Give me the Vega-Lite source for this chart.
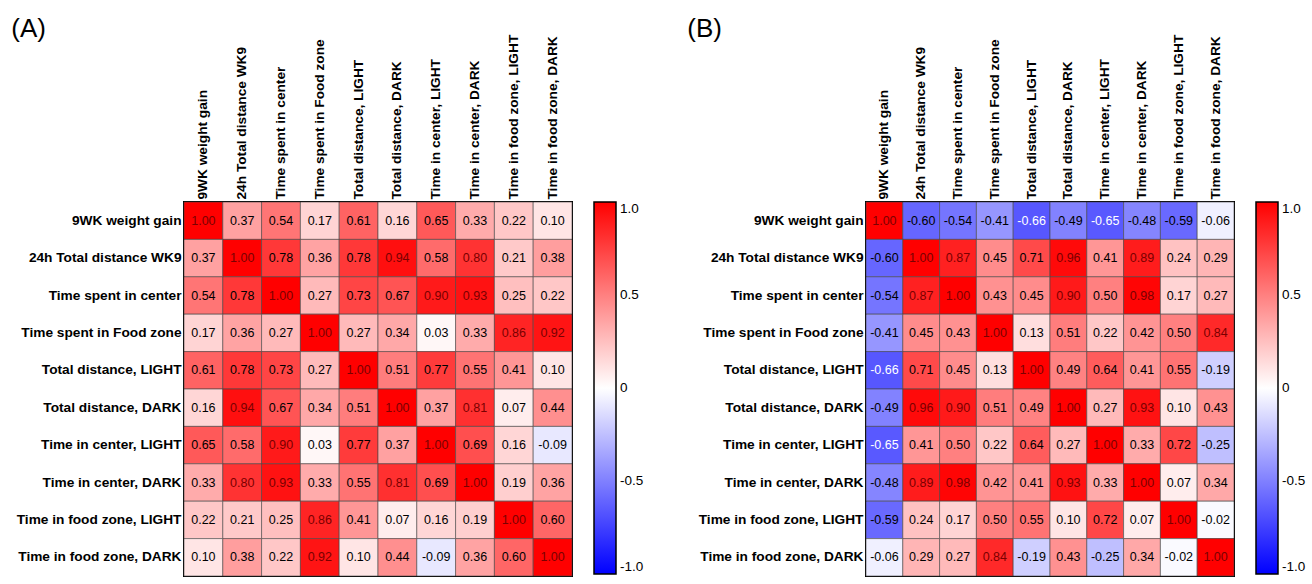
{
  "$schema": "https://vega.github.io/schema/vega-lite/v6.json",
  "padding": {"top": 15, "left": 10, "right": 0, "bottom": 0},
  "background": "white",
  "config": {
    "font": "Liberation Sans",
    "locale": {"number": {"decimal": ".", "thousands": ",", "grouping": [3], "currency": ["$", ""], "minus": "-"}},
    "view": {"stroke": "black", "strokeWidth": 2},
    "axis": {"domain": false, "ticks": false, "labelFont": "Liberation Sans", "labelFontWeight": "bold", "labelFontSize": 13.7, "labelColor": "black", "title": null, "labelPadding": 3},
    "legend": {"labelFont": "Liberation Sans", "labelFontSize": 13.5, "labelColor": "black"},
    "title": {"font": "Liberation Sans", "fontSize": 26, "fontWeight": "normal", "anchor": "start", "frame": "bounds", "color": "black", "offset": -8}
  },
  "datasets": {
    "A": [
      {"r":0,"c":0,"v":1.00},{"r":0,"c":1,"v":0.37},{"r":0,"c":2,"v":0.54},{"r":0,"c":3,"v":0.17},{"r":0,"c":4,"v":0.61},{"r":0,"c":5,"v":0.16},{"r":0,"c":6,"v":0.65},{"r":0,"c":7,"v":0.33},{"r":0,"c":8,"v":0.22},{"r":0,"c":9,"v":0.10},
      {"r":1,"c":0,"v":0.37},{"r":1,"c":1,"v":1.00},{"r":1,"c":2,"v":0.78},{"r":1,"c":3,"v":0.36},{"r":1,"c":4,"v":0.78},{"r":1,"c":5,"v":0.94},{"r":1,"c":6,"v":0.58},{"r":1,"c":7,"v":0.80},{"r":1,"c":8,"v":0.21},{"r":1,"c":9,"v":0.38},
      {"r":2,"c":0,"v":0.54},{"r":2,"c":1,"v":0.78},{"r":2,"c":2,"v":1.00},{"r":2,"c":3,"v":0.27},{"r":2,"c":4,"v":0.73},{"r":2,"c":5,"v":0.67},{"r":2,"c":6,"v":0.90},{"r":2,"c":7,"v":0.93},{"r":2,"c":8,"v":0.25},{"r":2,"c":9,"v":0.22},
      {"r":3,"c":0,"v":0.17},{"r":3,"c":1,"v":0.36},{"r":3,"c":2,"v":0.27},{"r":3,"c":3,"v":1.00},{"r":3,"c":4,"v":0.27},{"r":3,"c":5,"v":0.34},{"r":3,"c":6,"v":0.03},{"r":3,"c":7,"v":0.33},{"r":3,"c":8,"v":0.86},{"r":3,"c":9,"v":0.92},
      {"r":4,"c":0,"v":0.61},{"r":4,"c":1,"v":0.78},{"r":4,"c":2,"v":0.73},{"r":4,"c":3,"v":0.27},{"r":4,"c":4,"v":1.00},{"r":4,"c":5,"v":0.51},{"r":4,"c":6,"v":0.77},{"r":4,"c":7,"v":0.55},{"r":4,"c":8,"v":0.41},{"r":4,"c":9,"v":0.10},
      {"r":5,"c":0,"v":0.16},{"r":5,"c":1,"v":0.94},{"r":5,"c":2,"v":0.67},{"r":5,"c":3,"v":0.34},{"r":5,"c":4,"v":0.51},{"r":5,"c":5,"v":1.00},{"r":5,"c":6,"v":0.37},{"r":5,"c":7,"v":0.81},{"r":5,"c":8,"v":0.07},{"r":5,"c":9,"v":0.44},
      {"r":6,"c":0,"v":0.65},{"r":6,"c":1,"v":0.58},{"r":6,"c":2,"v":0.90},{"r":6,"c":3,"v":0.03},{"r":6,"c":4,"v":0.77},{"r":6,"c":5,"v":0.37},{"r":6,"c":6,"v":1.00},{"r":6,"c":7,"v":0.69},{"r":6,"c":8,"v":0.16},{"r":6,"c":9,"v":-0.09},
      {"r":7,"c":0,"v":0.33},{"r":7,"c":1,"v":0.80},{"r":7,"c":2,"v":0.93},{"r":7,"c":3,"v":0.33},{"r":7,"c":4,"v":0.55},{"r":7,"c":5,"v":0.81},{"r":7,"c":6,"v":0.69},{"r":7,"c":7,"v":1.00},{"r":7,"c":8,"v":0.19},{"r":7,"c":9,"v":0.36},
      {"r":8,"c":0,"v":0.22},{"r":8,"c":1,"v":0.21},{"r":8,"c":2,"v":0.25},{"r":8,"c":3,"v":0.86},{"r":8,"c":4,"v":0.41},{"r":8,"c":5,"v":0.07},{"r":8,"c":6,"v":0.16},{"r":8,"c":7,"v":0.19},{"r":8,"c":8,"v":1.00},{"r":8,"c":9,"v":0.60},
      {"r":9,"c":0,"v":0.10},{"r":9,"c":1,"v":0.38},{"r":9,"c":2,"v":0.22},{"r":9,"c":3,"v":0.92},{"r":9,"c":4,"v":0.10},{"r":9,"c":5,"v":0.44},{"r":9,"c":6,"v":-0.09},{"r":9,"c":7,"v":0.36},{"r":9,"c":8,"v":0.60},{"r":9,"c":9,"v":1.00}
    ],
    "B": [
      {"r":0,"c":0,"v":1.00},{"r":0,"c":1,"v":-0.60},{"r":0,"c":2,"v":-0.54},{"r":0,"c":3,"v":-0.41},{"r":0,"c":4,"v":-0.66},{"r":0,"c":5,"v":-0.49},{"r":0,"c":6,"v":-0.65},{"r":0,"c":7,"v":-0.48},{"r":0,"c":8,"v":-0.59},{"r":0,"c":9,"v":-0.06},
      {"r":1,"c":0,"v":-0.60},{"r":1,"c":1,"v":1.00},{"r":1,"c":2,"v":0.87},{"r":1,"c":3,"v":0.45},{"r":1,"c":4,"v":0.71},{"r":1,"c":5,"v":0.96},{"r":1,"c":6,"v":0.41},{"r":1,"c":7,"v":0.89},{"r":1,"c":8,"v":0.24},{"r":1,"c":9,"v":0.29},
      {"r":2,"c":0,"v":-0.54},{"r":2,"c":1,"v":0.87},{"r":2,"c":2,"v":1.00},{"r":2,"c":3,"v":0.43},{"r":2,"c":4,"v":0.45},{"r":2,"c":5,"v":0.90},{"r":2,"c":6,"v":0.50},{"r":2,"c":7,"v":0.98},{"r":2,"c":8,"v":0.17},{"r":2,"c":9,"v":0.27},
      {"r":3,"c":0,"v":-0.41},{"r":3,"c":1,"v":0.45},{"r":3,"c":2,"v":0.43},{"r":3,"c":3,"v":1.00},{"r":3,"c":4,"v":0.13},{"r":3,"c":5,"v":0.51},{"r":3,"c":6,"v":0.22},{"r":3,"c":7,"v":0.42},{"r":3,"c":8,"v":0.50},{"r":3,"c":9,"v":0.84},
      {"r":4,"c":0,"v":-0.66},{"r":4,"c":1,"v":0.71},{"r":4,"c":2,"v":0.45},{"r":4,"c":3,"v":0.13},{"r":4,"c":4,"v":1.00},{"r":4,"c":5,"v":0.49},{"r":4,"c":6,"v":0.64},{"r":4,"c":7,"v":0.41},{"r":4,"c":8,"v":0.55},{"r":4,"c":9,"v":-0.19},
      {"r":5,"c":0,"v":-0.49},{"r":5,"c":1,"v":0.96},{"r":5,"c":2,"v":0.90},{"r":5,"c":3,"v":0.51},{"r":5,"c":4,"v":0.49},{"r":5,"c":5,"v":1.00},{"r":5,"c":6,"v":0.27},{"r":5,"c":7,"v":0.93},{"r":5,"c":8,"v":0.10},{"r":5,"c":9,"v":0.43},
      {"r":6,"c":0,"v":-0.65},{"r":6,"c":1,"v":0.41},{"r":6,"c":2,"v":0.50},{"r":6,"c":3,"v":0.22},{"r":6,"c":4,"v":0.64},{"r":6,"c":5,"v":0.27},{"r":6,"c":6,"v":1.00},{"r":6,"c":7,"v":0.33},{"r":6,"c":8,"v":0.72},{"r":6,"c":9,"v":-0.25},
      {"r":7,"c":0,"v":-0.48},{"r":7,"c":1,"v":0.89},{"r":7,"c":2,"v":0.98},{"r":7,"c":3,"v":0.42},{"r":7,"c":4,"v":0.41},{"r":7,"c":5,"v":0.93},{"r":7,"c":6,"v":0.33},{"r":7,"c":7,"v":1.00},{"r":7,"c":8,"v":0.07},{"r":7,"c":9,"v":0.34},
      {"r":8,"c":0,"v":-0.59},{"r":8,"c":1,"v":0.24},{"r":8,"c":2,"v":0.17},{"r":8,"c":3,"v":0.50},{"r":8,"c":4,"v":0.55},{"r":8,"c":5,"v":0.10},{"r":8,"c":6,"v":0.72},{"r":8,"c":7,"v":0.07},{"r":8,"c":8,"v":1.00},{"r":8,"c":9,"v":-0.02},
      {"r":9,"c":0,"v":-0.06},{"r":9,"c":1,"v":0.29},{"r":9,"c":2,"v":0.27},{"r":9,"c":3,"v":0.84},{"r":9,"c":4,"v":-0.19},{"r":9,"c":5,"v":0.43},{"r":9,"c":6,"v":-0.25},{"r":9,"c":7,"v":0.34},{"r":9,"c":8,"v":-0.02},{"r":9,"c":9,"v":1.00}
    ]
  },
  "hconcat": [
    {
      "title": {"text": "(A)", "dx": -5},
      "data": {"name": "A"},
      "width": 388,
      "height": 374,
      "encoding": {
        "x": {"field": "c", "type": "ordinal", "axis": {"orient": "top", "labelAngle": -90, "labelAlign": "left", "labelBaseline": "middle", "labelExpr": "['9WK weight gain','24h Total distance WK9','Time spent in center','Time spent in Food zone','Total distance, LIGHT','Total distance, DARK','Time in center, LIGHT','Time in center, DARK','Time in food zone, LIGHT','Time in food zone, DARK'][datum.value]"}},
        "y": {"field": "r", "type": "ordinal", "axis": {"labelExpr": "['9WK weight gain','24h Total distance WK9','Time spent in center','Time spent in Food zone','Total distance, LIGHT','Total distance, DARK','Time in center, LIGHT','Time in center, DARK','Time in food zone, LIGHT','Time in food zone, DARK'][datum.value]"}}
      },
      "layer": [
        {"mark": {"type": "rect", "stroke": "#444", "strokeWidth": 0.6},
         "encoding": {"color": {"field": "v", "type": "quantitative", "scale": {"domain": [-1, 0, 1], "range": ["#0000ff", "#ffffff", "#ff0000"], "interpolate": "rgb"},
           "legend": {"title": null, "gradientLength": 372, "gradientThickness": 22, "gradientStrokeColor": "black", "gradientStrokeWidth": 1.5, "values": [-1, -0.5, 0, 0.5, 1], "labelBaseline": "middle", "labelOffset": 4, "offset": 22, "labelExpr": "datum.value == 1 ? '1.0' : datum.value == -1 ? '-1.0' : datum.value == 0 ? '0' : datum.value == 0.5 ? '0.5' : '-0.5'"}}}},
        {"mark": {"type": "text", "fontSize": 12.5, "font": "Liberation Sans"},
         "encoding": {"text": {"field": "v", "type": "quantitative", "format": ".2f"},
           "color": {"condition": [{"test": "datum.v >= 0.8", "value": "#7a0000"}, {"test": "datum.v <= -0.62", "value": "#ffffff"}], "value": "black"}}}
      ]
    },
    {
      "title": {"text": "(B)", "dx": -11},
      "data": {"name": "B"},
      "width": 368,
      "height": 374,
      "encoding": {
        "x": {"field": "c", "type": "ordinal", "axis": {"orient": "top", "labelAngle": -90, "labelAlign": "left", "labelBaseline": "middle", "labelExpr": "['9WK weight gain','24h Total distance WK9','Time spent in center','Time spent in Food zone','Total distance, LIGHT','Total distance, DARK','Time in center, LIGHT','Time in center, DARK','Time in food zone, LIGHT','Time in food zone, DARK'][datum.value]"}},
        "y": {"field": "r", "type": "ordinal", "axis": {"labelExpr": "['9WK weight gain','24h Total distance WK9','Time spent in center','Time spent in Food zone','Total distance, LIGHT','Total distance, DARK','Time in center, LIGHT','Time in center, DARK','Time in food zone, LIGHT','Time in food zone, DARK'][datum.value]"}}
      },
      "layer": [
        {"mark": {"type": "rect", "stroke": "#444", "strokeWidth": 0.6},
         "encoding": {"color": {"field": "v", "type": "quantitative", "scale": {"domain": [-1, 0, 1], "range": ["#0000ff", "#ffffff", "#ff0000"], "interpolate": "rgb"},
           "legend": {"title": null, "gradientLength": 372, "gradientThickness": 22, "gradientStrokeColor": "black", "gradientStrokeWidth": 1.5, "values": [-1, -0.5, 0, 0.5, 1], "labelBaseline": "middle", "labelOffset": 4, "offset": 22, "labelExpr": "datum.value == 1 ? '1.0' : datum.value == -1 ? '-1.0' : datum.value == 0 ? '0' : datum.value == 0.5 ? '0.5' : '-0.5'"}}}},
        {"mark": {"type": "text", "fontSize": 12.5, "font": "Liberation Sans"},
         "encoding": {"text": {"field": "v", "type": "quantitative", "format": ".2f"},
           "color": {"condition": [{"test": "datum.v >= 0.8", "value": "#7a0000"}, {"test": "datum.v <= -0.62", "value": "#ffffff"}], "value": "black"}}}
      ]
    }
  ],
  "spacing": 41,
  "resolve": {"scale": {"color": "independent"}, "legend": {"color": "independent"}}
}
